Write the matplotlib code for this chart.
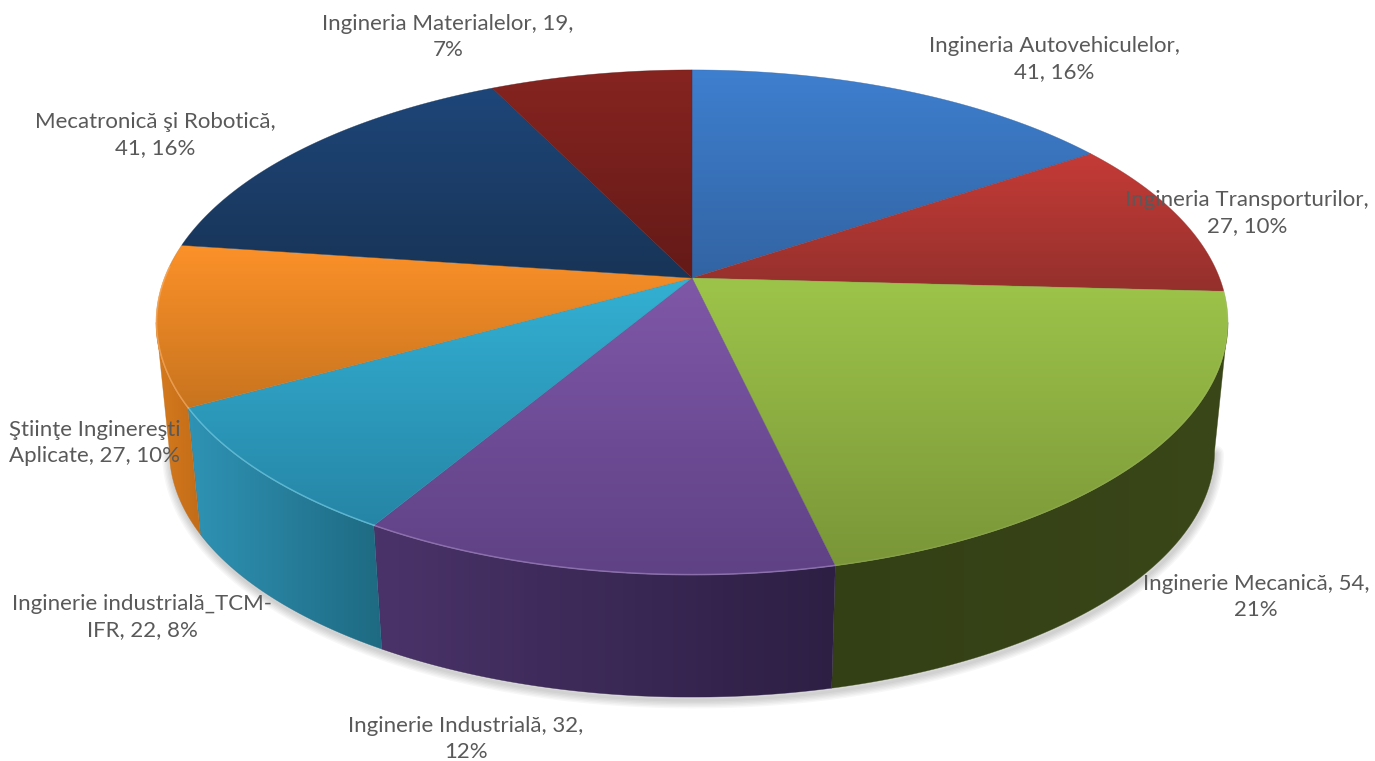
import numpy as np
import matplotlib
matplotlib.use("Agg")
import matplotlib.pyplot as plt
from matplotlib.patches import Polygon
from matplotlib.colors import LinearSegmentedColormap, to_rgb

plt.rcParams['font.family'] = ['Lato', 'DejaVu Sans']

# data, clockwise from 12 o'clock
values = [41, 27, 54, 32, 22, 27, 41, 19]
labels = ["Ingineria Autovehiculelor,\n41, 16%", "Ingineria Transporturilor,\n27, 10%",
          "Inginerie Mecanică, 54,\n21%", "Inginerie Industrială, 32,\n12%",
          "Inginerie industrială_TCM-\nIFR, 22, 8%", "Ştiinţe Inginereşti\nAplicate, 27, 10%",
          "Mecatronică şi Robotică,\n41, 16%", "Ingineria Materialelor, 19,\n7%"]
label_x = [1054, 1247, 1256, 466, 142, 95, 155, 448]
label_y = [58, 212, 596, 738, 616, 442, 134, 36]

# gradient ends, (top colour, bottom colour) of the face, (left, right) of the rim
top_cols = [("#3E7FCF", "#3264A3"), ("#C53B37", "#94302C"), ("#9DC44A", "#7A9638"),
            ("#7F58A8", "#5F4185"), ("#33B0D3", "#2685A6"), ("#FC9129", "#C8741F"),
            ("#1E4679", "#183457"), ("#862420", "#641A18")]
side_cols = [("#2A5590", "#2A5590"), ("#7A2522", "#7A2522"), ("#333F15", "#3A4718"),
             ("#4A3369", "#2D1F44"), ("#2F93B5", "#1E6A82"), ("#D67A1E", "#C26C18"),
             ("#17305A", "#17305A"), ("#5A1614", "#5A1614")]
bevel_alpha = [0, 0, 0.15, 0.6, 0.7, 0.6, 0, 0]

# projection of the flat pie onto the picture (pixels)
cx, cy = 692, 278
A, B, k = 527.6, 244.7, 0.176
shrink, cy2 = 0.975, 407.6
# the rim only shows between the two points where it turns away
vis0, vis1 = np.arccos(-k), 2 * np.pi - np.arccos(-k)


def project(theta, r=1.0, bottom=False):
    x = r * np.sin(theta)
    d = -r * np.cos(theta)
    w = 1 - k * d
    if bottom:
        return cx + shrink * A * x / w, cy2 + shrink * B * d / w
    return cx + A * x / w, cy + B * d / w


def gradient_fill(ax, verts, c0, c1, vertical=True, z=2):
    poly = Polygon(verts, closed=True, fc="none", ec="none", transform=ax.transData)
    ax.add_patch(poly)
    cmap = LinearSegmentedColormap.from_list("g", [to_rgb(c0), to_rgb(c1)])
    grad = np.linspace(0, 1, 128)
    grad = grad[:, None] if vertical else grad[None, :]
    x0, y0 = verts.min(axis=0)
    x1, y1 = verts.max(axis=0)
    im = ax.imshow(grad, cmap=cmap, extent=(x0, x1, y1, y0), aspect="auto", zorder=z,
                   interpolation="bilinear", vmin=0, vmax=1)
    im.set_clip_path(poly)
    # thin edge of the same tone hides the clip seams
    ax.add_patch(Polygon(verts, closed=True, fc="none", ec=c1, lw=0.4, zorder=z, alpha=0.6))


fig = plt.figure(figsize=(13.75, 7.61), dpi=100)
ax = fig.add_axes([0, 0, 1, 1])

angles = np.concatenate([[0], np.cumsum(values)]) / np.sum(values) * 2 * np.pi

# soft shadow under the pie
t = np.linspace(vis0, vis1, 300)
sx, sy = project(t, bottom=True)
for lw in np.arange(2, 14, 2):
    ax.plot(sx + 1, sy + 3, color="k", alpha=0.03, lw=lw, zorder=1, solid_capstyle="round")

# rims
for i in range(len(values)):
    a0, a1 = max(angles[i], vis0), min(angles[i + 1], vis1)
    if a1 <= a0:
        continue
    t = np.linspace(a0, a1, 120)
    tx, ty = project(t)
    bx, by = project(t, bottom=True)
    verts = np.column_stack([np.r_[tx, bx[::-1]], np.r_[ty, by[::-1]]])
    gradient_fill(ax, verts, side_cols[i][0], side_cols[i][1], vertical=False, z=3)

# faces
for i in range(len(values)):
    t = np.linspace(angles[i], angles[i + 1], 120)
    tx, ty = project(t)
    verts = np.column_stack([np.r_[cx, tx], np.r_[cy, ty]])
    gradient_fill(ax, verts, top_cols[i][0], top_cols[i][1], z=4)

# lighter bevel on the front edge
for i in range(len(values)):
    t = np.linspace(angles[i], angles[i + 1], 120)
    t = t[np.cos(t) < 0.05]
    if len(t) > 1 and bevel_alpha[i] > 0:
        tx, ty = project(t, r=0.999)
        light = 0.7 * np.array(to_rgb(top_cols[i][0])) + 0.3
        ax.plot(tx, ty, color=light, lw=1.1, alpha=bevel_alpha[i], zorder=5)

for x, y, s in zip(label_x, label_y, labels):
    ax.text(x, y + 1, s, ha="center", va="center", fontsize=16, color="#595959",
            linespacing=1.37, zorder=6)

ax.set_xlim(0, 1375)
ax.set_ylim(761, 0)
ax.axis("off")
fig.savefig("out.png", dpi=100, facecolor="white")
